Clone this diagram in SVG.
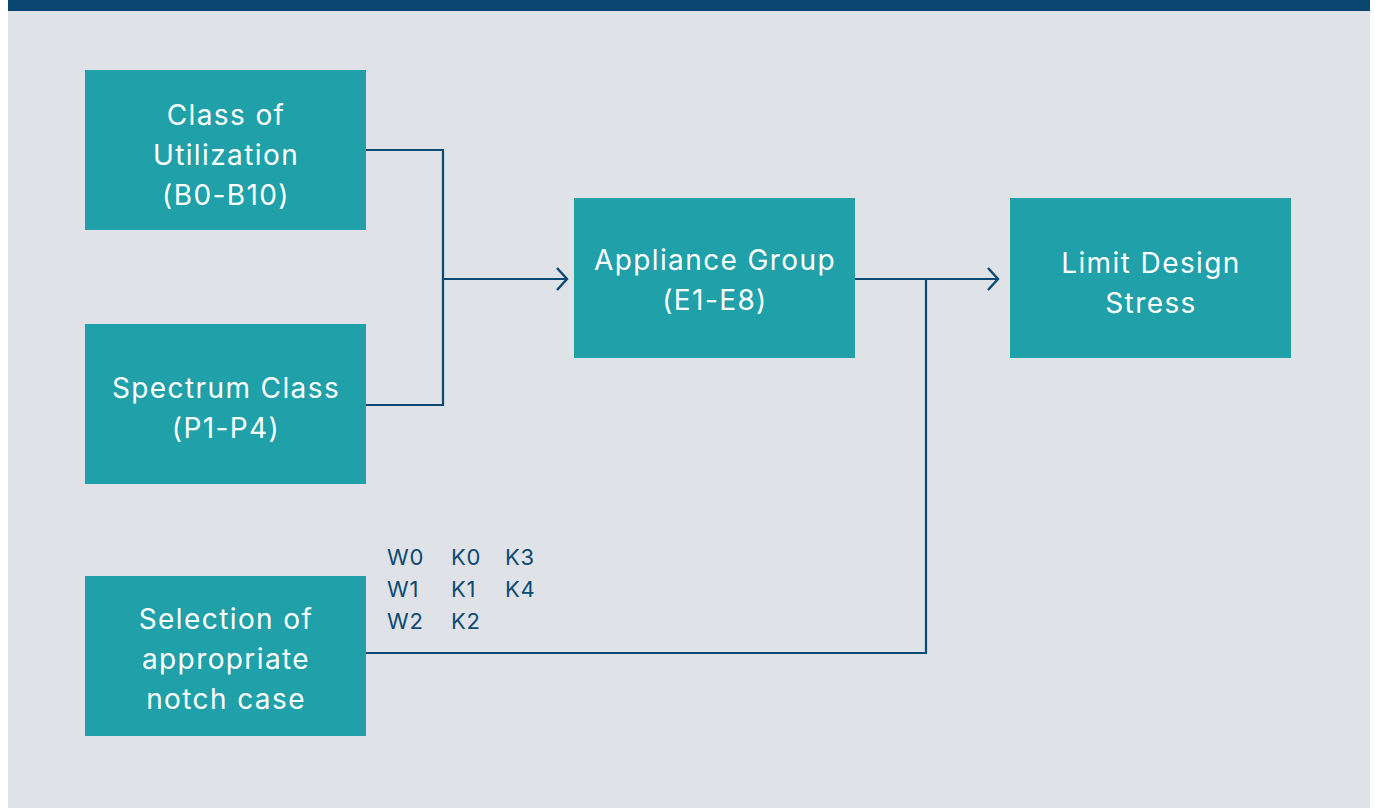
<svg xmlns="http://www.w3.org/2000/svg" width="1375" height="808" viewBox="0 0 1375 808">
<defs>
<style>
.box{fill:#20A0A8}
.t{font-family:Inter,"Liberation Sans",sans-serif;font-size:28px;letter-spacing:1.4px;fill:#ffffff;text-anchor:middle}
.c{fill:none;stroke:#0B4A72;stroke-width:2.2}
.lbl{font-family:Inter,"Liberation Sans",sans-serif;font-size:22px;letter-spacing:0.8px;fill:#0B4A72}
</style>
<marker id="arr" markerWidth="14" markerHeight="24" refX="12" refY="12" orient="auto" markerUnits="userSpaceOnUse">
<path d="M2,1 L12,12 L2,23" fill="none" stroke="#0B4A72" stroke-width="2.4"/>
</marker>
</defs>
<rect x="0" y="0" width="1375" height="808" fill="#ffffff"/>
<rect x="8" y="0" width="1362" height="808" fill="#DFE2E7"/>
<rect x="8" y="0" width="1362" height="11" fill="#08466F"/>
<g id="connectors">
<path class="c" d="M366,150 H443 V405 H366"/>
<path class="c" d="M443,279 H567" marker-end="url(#arr)"/>
<path class="c" d="M855,279 H998" marker-end="url(#arr)"/>
<path class="c" d="M926,279 V653 H366"/>
</g>
<g id="class-of-utilization">
<rect class="box" x="85" y="70" width="281" height="160"/>
<text class="t" x="226" y="125">Class of</text>
<text class="t" x="226" y="165">Utilization</text>
<text class="t" x="226" y="205">(B0-B10)</text>
</g>
<g id="spectrum-class">
<rect class="box" x="85" y="324" width="281" height="160"/>
<text class="t" x="226" y="398">Spectrum Class</text>
<text class="t" x="226" y="438">(P1-P4)</text>
</g>
<g id="selection">
<rect class="box" x="85" y="576" width="281" height="160"/>
<text class="t" x="226" y="629">Selection of</text>
<text class="t" x="226" y="669">appropriate</text>
<text class="t" x="226" y="709">notch case</text>
</g>
<g id="appliance-group">
<rect class="box" x="574" y="198" width="281" height="160"/>
<text class="t" x="715" y="270">Appliance Group</text>
<text class="t" x="715" y="310">(E1-E8)</text>
</g>
<g id="limit-design-stress">
<rect class="box" x="1010" y="198" width="281" height="160"/>
<text class="t" x="1151" y="273">Limit Design</text>
<text class="t" x="1151" y="313">Stress</text>
</g>
<g id="notch-labels">
<text class="lbl" x="387" y="565">W0</text>
<text class="lbl" x="451" y="565">K0</text>
<text class="lbl" x="505" y="565">K3</text>
<text class="lbl" x="387" y="597">W1</text>
<text class="lbl" x="451" y="597">K1</text>
<text class="lbl" x="505" y="597">K4</text>
<text class="lbl" x="387" y="629">W2</text>
<text class="lbl" x="451" y="629">K2</text>
</g>
</svg>
